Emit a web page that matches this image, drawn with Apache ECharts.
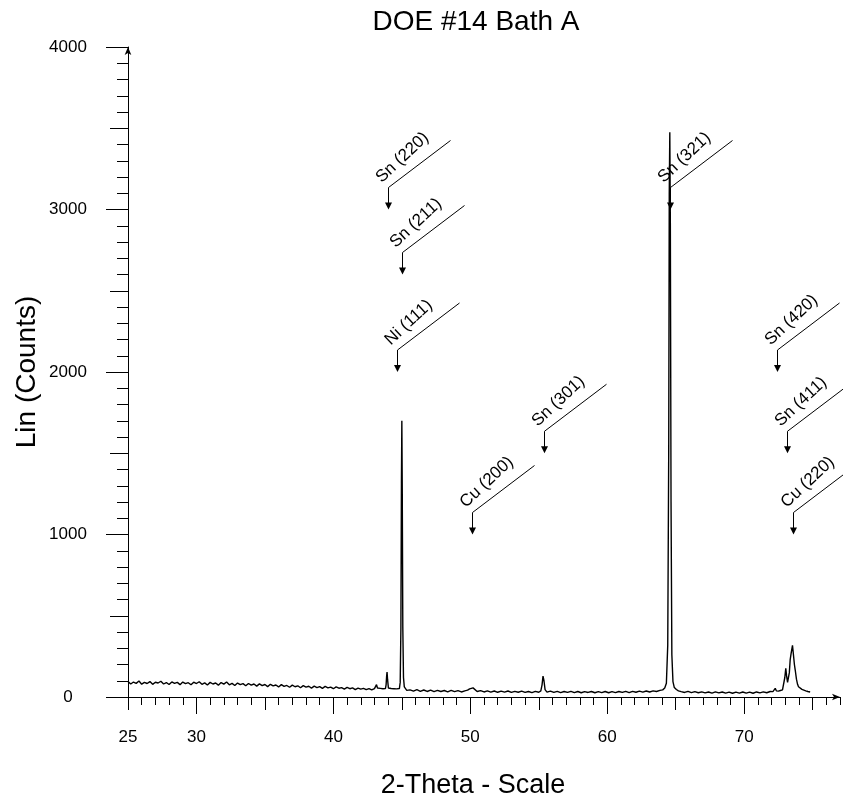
<!DOCTYPE html>
<html>
<head>
<meta charset="utf-8">
<title>DOE #14 Bath A</title>
<script src="https://cdn.jsdelivr.net/npm/echarts@6/dist/echarts.min.js"></script>
<style>
  html, body { margin: 0; padding: 0; background: #fff; }
  #main { width: 843px; height: 795px; }
</style>
</head>
<body>
<div id="main"></div>
<script>
// scan as [2-theta, counts]
var scan25to43 = [
  [25.0, 96], [25.2, 80], [25.4, 92], [25.6, 84], [25.8, 98], [26.0, 79], [26.2, 90], [26.4, 83], [26.6, 95], [26.8, 78],
  [27.0, 91], [27.2, 86], [27.4, 97], [27.6, 80], [27.8, 89], [28.0, 77], [28.2, 93], [28.4, 84], [28.6, 90], [28.8, 76],
  [29.0, 92], [29.2, 82], [29.4, 88], [29.6, 75], [29.8, 91], [30.0, 83], [30.2, 94], [30.4, 78], [30.6, 87], [30.8, 74],
  [31.0, 90], [31.2, 80], [31.4, 86], [31.6, 73], [31.8, 89], [32.0, 79], [32.2, 92], [32.4, 75], [32.6, 84], [32.8, 71],
  [33.0, 86], [33.2, 76], [33.4, 82], [33.6, 69], [33.8, 83], [34.0, 73], [34.2, 80], [34.4, 67], [34.6, 81], [34.8, 70],
  [35.0, 77], [35.2, 64], [35.4, 78], [35.6, 68], [35.8, 74], [36.0, 62], [36.2, 76], [36.4, 65], [36.6, 71], [36.8, 60],
  [37.0, 73], [37.2, 63], [37.4, 69], [37.6, 57], [37.8, 70], [38.0, 61], [38.2, 66], [38.4, 55], [38.6, 67], [38.8, 58],
  [39.0, 64], [39.2, 53], [39.4, 65], [39.6, 56], [39.8, 61], [40.0, 51], [40.2, 62], [40.4, 54], [40.6, 58], [40.8, 49],
  [41.0, 59], [41.2, 51], [41.4, 56], [41.6, 46], [41.8, 55], [42.0, 48], [42.2, 53], [42.4, 45], [42.6, 52], [42.8, 44]
];
var scan43to46 = [
  [43.00, 52], [43.08, 44], [43.15, 76], [43.22, 55], [43.32, 45], [43.42, 53], [43.52, 43], [43.62, 51],
  [43.72, 44], [43.80, 52], [43.85, 75], [43.89, 130], [43.92, 153], [43.96, 105], [44.02, 55], [44.12, 45],
  [44.22, 52], [44.32, 43], [44.42, 51], [44.52, 42], [44.62, 50], [44.72, 44], [44.82, 52], [44.88, 90],
  [44.93, 420], [44.97, 1320], [45.00, 1700], [45.03, 1280], [45.07, 430], [45.12, 120], [45.18, 62],
  [45.26, 50], [45.36, 41], [45.45, 47]
];
var scan46to64 = [
  [45.60, 44], [45.85, 36], [46.10, 45], [46.35, 35], [46.60, 43], [46.85, 34], [47.10, 42], [47.35, 33],
  [47.60, 41], [47.85, 34], [48.10, 40], [48.35, 32], [48.60, 41], [48.85, 33], [49.10, 39], [49.35, 31],
  [49.60, 38], [49.80, 42], [49.95, 50], [50.08, 60], [50.20, 56], [50.32, 45], [50.50, 34], [50.75, 39],
  [51.00, 31], [51.25, 38], [51.50, 30], [51.75, 37], [52.00, 29], [52.25, 36], [52.50, 30], [52.75, 37],
  [53.00, 28], [53.25, 35], [53.50, 29], [53.75, 36], [54.00, 28], [54.25, 34], [54.50, 27], [54.75, 35],
  [55.00, 29], [55.15, 38], [55.24, 75], [55.31, 128], [55.38, 100], [55.46, 45], [55.60, 30], [55.85, 36],
  [56.10, 28], [56.35, 35], [56.60, 27], [56.85, 34], [57.10, 28], [57.35, 35], [57.60, 27], [57.85, 34],
  [58.10, 26], [58.35, 33], [58.60, 28], [58.85, 34], [59.10, 26], [59.35, 33], [59.60, 27], [59.85, 34],
  [60.10, 26], [60.35, 33], [60.60, 27], [60.85, 34], [61.10, 28], [61.35, 35], [61.60, 27], [61.85, 35],
  [62.10, 29], [62.35, 36], [62.60, 30], [62.85, 37], [63.10, 31], [63.35, 38], [63.60, 34], [63.85, 41],
  [64.05, 44], [64.20, 55]
];
var scan64to75 = [
  [64.32, 85], [64.42, 320], [64.49, 1500], [64.53, 3100], [64.57, 3475], [64.61, 2900], [64.66, 1200],
  [64.72, 260], [64.80, 95], [64.90, 58], [65.05, 46], [65.20, 38], [65.40, 33], [65.65, 28], [65.90, 35],
  [66.15, 27], [66.40, 33], [66.65, 26], [66.90, 32], [67.15, 25], [67.40, 31], [67.65, 24], [67.90, 32],
  [68.15, 25], [68.40, 31], [68.65, 24], [68.90, 30], [69.15, 23], [69.40, 30], [69.65, 24], [69.90, 31],
  [70.15, 24], [70.40, 30], [70.65, 23], [70.90, 31], [71.15, 25], [71.40, 32], [71.65, 26], [71.90, 34],
  [72.10, 33], [72.20, 40], [72.27, 53], [72.35, 38], [72.50, 36], [72.65, 40], [72.80, 44], [72.90, 52],
  [72.97, 120], [73.04, 176], [73.10, 130], [73.17, 90], [73.23, 84], [73.30, 150], [73.36, 228], [73.43, 268],
  [73.53, 318], [73.60, 260], [73.67, 200], [73.73, 166], [73.82, 110], [73.90, 78], [73.97, 63], [74.10, 52],
  [74.22, 47], [74.34, 43], [74.50, 38], [74.65, 34], [74.82, 31]
];

// phase markers: [2-theta, counts at arrow tip]
var markerPos = [
  [44.00, 3000], [45.00, 2600], [44.62, 2000], [50.14, 1000], [55.38, 1500],
  [64.59, 3000], [72.39, 2000], [73.12, 1500], [73.58, 1000]
];
var markerNames = [
  'Sn (220)', 'Sn (211)', 'Ni (111)', 'Cu (200)', 'Sn (301)',
  'Sn (321)', 'Sn (420)', 'Sn (411)', 'Cu (220)'
];

// ticks
var xLabelValues = [25, 30, 40, 50, 60, 70];
var xMidTicks = [25, 35, 45, 55, 65, 75];
var xLongTicks = [30, 40, 50, 60, 70];
var xMinorTicks = [];
for (var t = 25; t <= 77; t++) xMinorTicks.push(t);

var FONT = '"Liberation Sans", Arial, sans-serif';
var chart = echarts.init(document.getElementById('main'));

function xAxisBase(extra) {
  var a = {
    type: 'value', min: 25, max: 77, position: 'bottom',
    splitLine: { show: false },
    axisLine: { show: false },
    axisLabel: { show: false },
    axisTick: { show: true, length: 8, lineStyle: { color: '#000' } }
  };
  for (var k in extra) a[k] = extra[k];
  return a;
}

var option = {
  animation: false,
  backgroundColor: '#fff',
  grid: { left: 128, right: 3, top: 47, bottom: 98, containLabel: false },
  graphic: [
    { type: 'text', x: 476, y: 22, style: { text: 'DOE #14 Bath A', fontSize: 28, fontFamily: FONT, fill: '#000', textAlign: 'center', textVerticalAlign: 'middle' } },
    { type: 'text', x: 473, y: 786, style: { text: '2-Theta - Scale', fontSize: 27, fontFamily: FONT, fill: '#000', textAlign: 'center', textVerticalAlign: 'middle' } },
    { type: 'text', x: 27, y: 372, rotation: Math.PI / 2, style: { text: 'Lin (Counts)', fontSize: 28, fontFamily: FONT, fill: '#000', textAlign: 'center', textVerticalAlign: 'middle' } }
  ],
  xAxis: [
    xAxisBase({
      axisLine: { show: true, symbol: ['none', 'arrow'], symbolSize: [5, 8], lineStyle: { color: '#000', width: 1 } },
      axisTick: { show: true, length: 8, customValues: xMinorTicks, lineStyle: { color: '#000' } },
      axisLabel: { show: true, customValues: xLabelValues, margin: 32, fontSize: 17, fontFamily: FONT, color: '#000' }
    }),
    xAxisBase({ axisTick: { show: true, length: 13, customValues: xMidTicks, lineStyle: { color: '#000' } } }),
    xAxisBase({ axisTick: { show: true, length: 17, customValues: xLongTicks, lineStyle: { color: '#000' } } })
  ],
  yAxis: [
    {
      type: 'value', min: 0, max: 4000, interval: 1000, position: 'left',
      splitLine: { show: false },
      axisLine: { show: true, symbol: ['none', 'arrow'], symbolSize: [5, 8], lineStyle: { color: '#000', width: 1 } },
      axisTick: { show: true, length: 22, lineStyle: { color: '#000' } },
      minorTick: { show: true, splitNumber: 10, length: 11, lineStyle: { color: '#000' } },
      axisLabel: {
        margin: 60, align: 'center', fontSize: 17, fontFamily: FONT, color: '#000',
        formatter: function (v) { return String(v); }
      }
    },
    {
      type: 'value', min: 0, max: 4000, interval: 500, position: 'left',
      splitLine: { show: false },
      axisLine: { show: false },
      axisLabel: { show: false },
      axisTick: { show: true, length: 18, lineStyle: { color: '#000' } }
    }
  ],
  series: [
    {
      type: 'line',
      xAxisIndex: 0, yAxisIndex: 0,
      data: scan25to43.concat(scan43to46, scan46to64, scan64to75),
      showSymbol: false,
      symbol: 'none',
      lineStyle: { color: '#000', width: 1.4 },
      z: 3
    },
    {
      type: 'custom',
      xAxisIndex: 0, yAxisIndex: 0,
      data: markerPos,
      z: 4,
      renderItem: function (params, api) {
        var p = api.coord([api.value(0), api.value(1)]);
        var x = Math.round(p[0]) + 0.5, y = p[1];
        var topY = y - 22;
        var ang = 43 * Math.PI / 180;
        return {
          type: 'group',
          children: [
            { type: 'line', shape: { x1: x, y1: y - 5, x2: x, y2: topY }, style: { stroke: '#000', lineWidth: 1 } },
            { type: 'polygon', shape: { points: [[x - 3.5, y - 7], [x + 3.5, y - 7], [x, y]] }, style: { fill: '#000' } },
            { type: 'line', shape: { x1: x, y1: topY, x2: x + 62, y2: topY - 47 }, style: { stroke: '#000', lineWidth: 1 } },
            {
              type: 'text', x: x, y: topY, rotation: ang,
              style: {
                text: markerNames[params.dataIndex], x: -2, y: -4,
                fontSize: 17, fontFamily: FONT, fill: '#000',
                textAlign: 'left', textVerticalAlign: 'bottom'
              }
            }
          ]
        };
      }
    }
  ]
};
chart.setOption(option);
</script>
</body>
</html>
